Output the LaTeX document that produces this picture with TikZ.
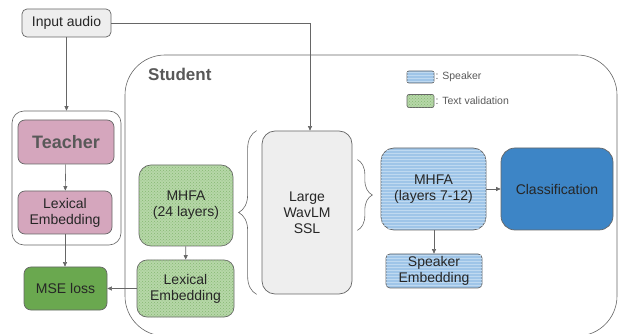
\documentclass[tikz,border=0pt]{standalone}
\usepackage{fontspec}
\setmainfont{Liberation Sans}
\usetikzlibrary{positioning,arrows.meta,patterns,decorations.pathreplacing}
\definecolor{linegray}{HTML}{666666}
\definecolor{boxgray}{HTML}{EEEEEE}
\definecolor{labelgray}{HTML}{595959}
\definecolor{teacherpink}{HTML}{D5A6BD}
\definecolor{textgreen}{HTML}{B6D7A8}
\definecolor{dotgreen}{HTML}{86B872}
\definecolor{lossgreen}{HTML}{6AA84F}
\definecolor{spkblue}{HTML}{9FC5E8}
\definecolor{stripeblue}{HTML}{BFD9F0}
\definecolor{clsblue}{HTML}{3D85C6}

\begin{document}
\begin{tikzpicture}[x=1pt, y=-1pt, >={Triangle[length=4.5pt,width=4pt]},
    font=\fontsize{14}{16}\selectfont, text=black!85,
    box/.style={rectangle, draw=linegray, line width=0.7pt, align=center, inner sep=0pt},
    grayfill/.style={box, fill=boxgray},
    pinkfill/.style={box, fill=teacherpink, rounded corners=7pt},
    textval/.style={box, fill=textgreen, postaction={pattern=crosshatch dots, pattern color=dotgreen}},
    speaker/.style={box, fill=spkblue, postaction={pattern=horizontal lines, pattern color=stripeblue}},
    group/.style={rectangle, draw=linegray, line width=0.6pt},
    conn/.style={->, draw=linegray, line width=0.6pt},
    bracket/.style={draw=linegray, line width=0.6pt, decorate},
    legtext/.style={font=\fontsize{10.5}{12}\selectfont, text=labelgray, anchor=west, inner sep=1pt}]

    \useasboundingbox (0,0) rectangle (622,334);

    \node[group, rounded corners=40pt, minimum width=492, minimum height=281] (student) at (371,195.5) {};
    \node[anchor=west, inner sep=0pt, text=labelgray, font=\fontsize{17}{20}\selectfont\bfseries] (studentlabel) at (148,74) {Student};

    \node[grayfill, rounded corners=5pt, minimum width=89, minimum height=28] (input) at (66.5,23) {Input audio};

    \node[group, rounded corners=12pt, minimum width=109, minimum height=134] (tgroup) at (66.5,178) {};
    \node[pinkfill, minimum width=96, minimum height=44, text=labelgray, font=\fontsize{18}{20}\selectfont\bfseries] (teacher) at (66,142) {Teacher};
    \node[pinkfill, minimum width=94, minimum height=43] (lexteacher) at (65,212.5) {Lexical\\ Embedding};
    \node[box, fill=lossgreen, rounded corners=7pt, minimum width=83, minimum height=43] (mse) at (65.5,288.5) {MSE loss};

    \node[textval, rounded corners=12pt, minimum width=94, minimum height=81] (mhfatext) at (186,205.5) {MHFA\\ (24 layers)};
    \node[textval, rounded corners=10pt, minimum width=97, minimum height=57] (lexstudent) at (185.5,288.5) {Lexical\\ Embedding};

    \node[grayfill, rounded corners=13pt, minimum width=90, minimum height=163] (wavlm) at (307,212.5) {Large\\ WavLM\\ SSL};

    \node[speaker, rounded corners=13pt, minimum width=105, minimum height=82] (mhfaspk) at (433.5,189) {MHFA\\ (layers 7-12)};
    \node[box, fill=clsblue, rounded corners=14pt, minimum width=112, minimum height=82] (cls) at (557,189) {Classification};
    \node[speaker, rounded corners=4pt, minimum width=96, minimum height=34] (spkemb) at (434,271) {Speaker\\ Embedding};

    \node[speaker, rounded corners=2pt, minimum width=27, minimum height=12] (legspk) at (420.5,77) {};
    \node[legtext] (legspktext) at (legspk.east) {: Speaker};
    \node[textval, rounded corners=2pt, minimum width=27, minimum height=13] (legtext) at (420.5,101) {};
    \node[legtext] (legtexttext) at (legtext.east) {: Text validation};

    \draw[conn] (input.east) -| ([xshift=3pt]wavlm.north);
    \draw[conn] (input.south) -- (tgroup.north);
    \draw[conn] (teacher) -- (lexteacher);
    \draw[conn] (lexteacher.south) -- (mse.north -| lexteacher.south);
    \draw[conn] (mhfatext) -- (lexstudent);
    \draw[conn] (lexstudent.west) -- (mse.east);
    \draw[conn] (mhfaspk) -- (cls);
    \draw[conn] (mhfaspk.south -| spkemb.north) -- (spkemb.north);

    \draw[bracket, decoration={brace, amplitude=18pt}] ([xshift=-5pt]wavlm.south west) -- ([xshift=-5pt]wavlm.north west);
    \draw[bracket, decoration={brace, amplitude=15pt}] ([xshift=5pt]wavlm.east |- mhfaspk.north) ++(0,12) coordinate (bracetop) -- ([xshift=5pt]wavlm.east |- mhfaspk.south) ++(0,-18) coordinate (bracebottom);
\end{tikzpicture}
\end{document}
